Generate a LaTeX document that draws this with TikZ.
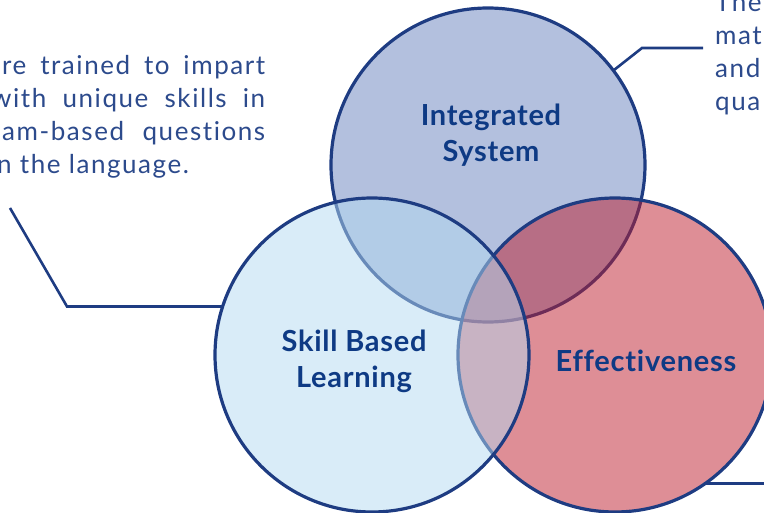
\documentclass[tikz,border=0pt]{standalone}
\usepackage{fontspec}
\setmainfont{Lato}[LetterSpace=6, Ligatures=NoCommon]
\newfontfamily\headfont{Lato}[LetterSpace=2.5, Ligatures=NoCommon]
\definecolor{rim}{RGB}{30,60,130}
\definecolor{headblue}{RGB}{14,58,132}
\definecolor{bodyblue}{RGB}{44,74,140}
\definecolor{topfill}{RGB}{103,129,189}
\definecolor{leftfill}{RGB}{179,217,241}
\definecolor{rightfill}{RGB}{189,29,45}
\tikzset{
    venn/.style={circle, draw=rim, line width=3.2pt, minimum size=314pt, inner sep=0pt, outer sep=0pt, fill opacity=0.5},
    head/.style={font=\headfont\bfseries\fontsize{29}{36}\selectfont, text=headblue, align=center},
    body/.style={font=\fontsize{26}{33}\selectfont, text=bodyblue, inner sep=0pt},
    lead/.style={draw=rim, line width=2.6pt}
}
\begin{document}
\begin{tikzpicture}[x=1pt,y=-1pt]
        \clip (0,0) rectangle (764,513);
        % circles
        \node[venn, fill=topfill] (integ) at (488,165) {};
        \node[venn, fill=rightfill] (effect) at (615,355) {};
        \node[venn, fill=leftfill] (skill) at (372,355) {};

        % labels
        \node[head] (integlbl) at (491,135) {Integrated\\System};
        \node[head] (skilllbl) at (354,361) {Skill Based\\Learning};
        \node[head] (effectlbl) at (646,361) {Effectiveness};

        % left text
        \node[body, anchor=base west] (ltxta) at (2,75) {\makebox[263pt][s]{re trained to impart}};
        \node[body, anchor=base west] (ltxtb) at (-9,108) {\makebox[274pt][s]{with unique skills in}};
        \node[body, anchor=base west] (ltxtc) at (2,141) {\makebox[263pt][s]{am-based questions}};
        \node[body, anchor=base west] (ltxtd) at (-3,174) {n the language.};

        % right text
        \node[body, anchor=base west] (rtxta) at (715,12) {The};
        \node[body, anchor=base west] (rtxtb) at (715,45) {mat};
        \node[body, anchor=base west] (rtxtc) at (715,78) {and};
        \node[body, anchor=base west] (rtxtd) at (715,111) {qua};

        % connectors
        \coordinate (lfree) at (10,208);
        \coordinate (lbend) at (67,307);
        \draw[lead] (skill.162) -- (skill.162 -| lbend) -- (lfree);
        \coordinate (tbend) at (642,48);
        \coordinate (tfree) at (703,48);
        \draw[lead] (integ.37) -- (tbend) -- (tfree);
        \coordinate (bfree) at (766,482);
        \draw[lead] (effect.-55) -- (effect.-55 -| bfree);
\end{tikzpicture}
\end{document}
